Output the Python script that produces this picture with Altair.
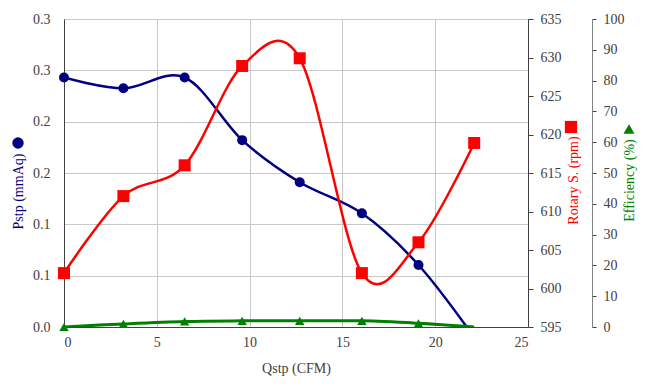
import altair as alt
import pandas as pd

# ---- data ----
qstp = [0.0, 3.2, 6.5, 9.6, 12.7, 16.05, 19.1, 22.1]
pstp = [0.243, 0.2325, 0.243, 0.182, 0.141, 0.1107, 0.0604, -0.010]
rotary = [602.0, 612.0, 616.0, 628.9, 629.9, 602.0, 606.0, 618.9]
efficiency = [0.0, 1.0, 1.8, 2.0, 2.0, 2.0, 1.2, 0.0]
marker_blue = [1, 1, 1, 1, 1, 1, 1, 0]
marker_red = [1, 1, 1, 1, 1, 1, 1, 1]
marker_green = [1, 1, 1, 1, 1, 1, 1, 0]

x_ticks = [0, 5, 10, 15, 20, 25]
pstp_ticks = [0, 0.05, 0.1, 0.15, 0.2, 0.25, 0.3]
rotary_ticks = [595, 600, 605, 610, 615, 620, 625, 630, 635]
eff_ticks = [0, 10, 20, 30, 40, 50, 60, 70, 80, 90, 100]

df = pd.DataFrame({
    "qstp": qstp, "pstp": pstp, "rotary": rotary, "eff": efficiency,
    "mb": marker_blue, "mr": marker_red, "mg": marker_green,
})
key_df = pd.DataFrame({"k": [0]})

FONT = "Liberation Serif"
LABEL = "#404040"
BLUE = "#000080"
RED = "#FF0000"
GREEN = "#008000"

x = alt.X("qstp:Q", scale=alt.Scale(domain=[0, 25], nice=False, zero=False),
          axis=alt.Axis(values=x_ticks, title="Qstp (CFM)", grid=True, gridColor="#c8c8c8",
                        ticks=False, labelPadding=8, domainColor="#404040",
                        titleY=41, titleBaseline="middle", titleFontWeight="normal"))

y_p = alt.Y("pstp:Q", scale=alt.Scale(domain=[0, 0.3], nice=False, zero=False),
            axis=alt.Axis(values=pstp_ticks, orient="left", grid=True, gridColor="#c8c8c8",
                          ticks=False, labelPadding=14, domainColor="#404040",
                          labelExpr="format(round(datum.value*10+0.0001)/10, '.1f')",
                          title="Pstp (mmAq)", titleColor=BLUE, titleAngle=-90,
                          titleX=-46, titleY=172, titleAlign="center", titleBaseline="middle",
                          titleFontWeight="normal"))

y_r = alt.Y("rotary:Q", scale=alt.Scale(domain=[595, 635], nice=False, zero=False),
            axis=alt.Axis(values=rotary_ticks, orient="right", grid=False, ticks=True, tickSize=5,
                          tickColor="#404040", labelPadding=7, domainColor="#404040",
                          title="Rotary S. (rpm)", titleColor=RED, titleAngle=-90,
                          titleX=45, titleY=161, titleAlign="center", titleBaseline="middle",
                          titleFontWeight="normal"))

y_e = alt.Y("eff:Q", scale=alt.Scale(domain=[0, 100], nice=False, zero=False),
            axis=alt.Axis(values=eff_ticks, orient="right", offset=64, grid=False, ticks=True,
                          tickSize=4, tickColor="#404040", labelPadding=7, domainColor="#808080",
                          title="Efficiency (%)", titleColor=GREEN, titleAngle=-90,
                          titleX=37, titleY=161, titleAlign="center", titleBaseline="middle",
                          titleFontWeight="normal"))

base = alt.Chart(df)

blue = alt.layer(
    base.mark_line(color=BLUE, strokeWidth=2.5, interpolate="cardinal", clip=True).encode(x=x, y=y_p),
    base.mark_point(shape="circle", filled=True, color=BLUE, size=100, opacity=1)
        .encode(x=x, y=y_p).transform_filter("datum.mb == 1"),
)
red = alt.layer(
    base.mark_line(color=RED, strokeWidth=2.5, interpolate="cardinal", clip=True).encode(x=x, y=y_r),
    base.mark_point(shape="square", filled=True, color=RED, size=144, opacity=1)
        .encode(x=x, y=y_r).transform_filter("datum.mr == 1"),
)
green = alt.layer(
    base.mark_line(color=GREEN, strokeWidth=3, interpolate="cardinal", clip=True).encode(x=x, y=y_e),
    base.mark_point(shape="triangle-up", filled=True, color=GREEN, size=90, opacity=1)
        .encode(x=x, y=y_e).transform_filter("datum.mg == 1"),
)

# symbol keys placed next to the axis titles (as in the original Excel chart)
keys = alt.Chart(key_df)
key_blue = keys.mark_point(shape="circle", filled=True, color=BLUE, size=130, opacity=1).encode(
    x=alt.value(-46), y=alt.value(124))
key_red = keys.mark_point(shape="square", filled=True, color=RED, size=150, opacity=1).encode(
    x=alt.value(507), y=alt.value(108))
key_green = keys.mark_point(shape="triangle-up", filled=True, color=GREEN, size=120, opacity=1).encode(
    x=alt.value(565), y=alt.value(110))

chart = alt.layer(blue, red, green, key_blue, key_red, key_green).resolve_scale(
    y="independent").properties(
    width=464, height=308,
    background="white",
    autosize=alt.AutoSizeParams(type="none"),
    padding={"left": 56, "top": 11, "right": 111, "bottom": 55},
).configure_view(stroke="#404040", strokeWidth=1).configure_axis(
    labelFont=FONT, labelFontSize=14, labelColor=LABEL,
    titleFont=FONT, titleFontSize=14, titleColor=LABEL,
)

chart.save("out.html", embed_options={"renderer": "svg", "actions": False})
